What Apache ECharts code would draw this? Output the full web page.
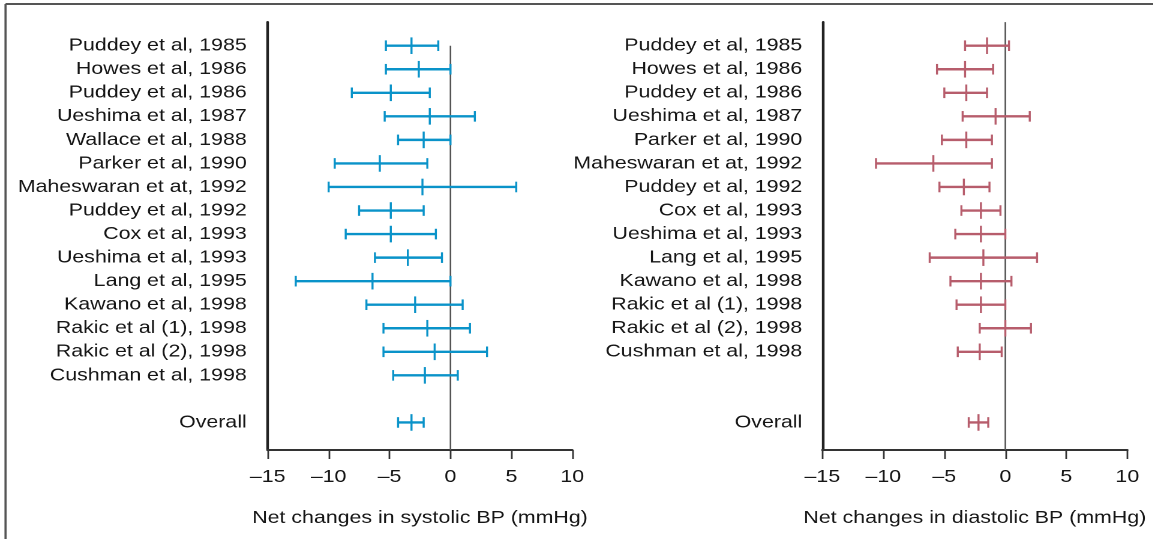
<!DOCTYPE html>
<html>
<head>
<meta charset="utf-8">
<script src="https://cdn.jsdelivr.net/npm/echarts@6/dist/echarts.min.js"></script>
<style>
  html, body { margin: 0; padding: 0; background: #fff; overflow: hidden; }
  /* the figure is set in a slightly wide face: draw narrower, then widen */
  #chart { width: 961px; height: 539px; transform: scaleX(1.2); transform-origin: 0 0; }
</style>
</head>
<body>
<div id="chart"></div>
<script>
// Systolic BP: net change per trial (mean with 95% CI), mmHg
const sbpStudies = [
  'Puddey et al, 1985', 'Howes et al, 1986', 'Puddey et al, 1986', 'Ueshima et al, 1987',
  'Wallace et al, 1988', 'Parker et al, 1990', 'Maheswaran et at, 1992', 'Puddey et al, 1992',
  'Cox et al, 1993', 'Ueshima et al, 1993', 'Lang et al, 1995', 'Kawano et al, 1998',
  'Rakic et al (1), 1998', 'Rakic et al (2), 1998', 'Cushman et al, 1998'
];
const sbpMean = [-3.2, -2.6, -4.9, -1.7, -2.2, -5.8, -2.3, -4.9, -4.9, -3.5, -6.4, -2.9, -1.9, -1.3, -2.1];
const sbpLow  = [-5.3, -5.3, -8.1, -5.4, -4.3, -9.5, -10.0, -7.5, -8.6, -6.2, -12.7, -6.9, -5.5, -5.5, -4.7];
const sbpHigh = [-1.0, 0.0, -1.7, 2.0, 0.0, -1.9, 5.4, -2.2, -1.2, -0.7, 0.0, 1.0, 1.6, 3.0, 0.6];
const sbpOverall = { low: -4.3, mean: -3.2, high: -2.2 };

// Diastolic BP
const dbpStudies = [
  'Puddey et al, 1985', 'Howes et al, 1986', 'Puddey et al, 1986', 'Ueshima et al, 1987',
  'Parker et al, 1990', 'Maheswaran et at, 1992', 'Puddey et al, 1992', 'Cox et al, 1993',
  'Ueshima et al, 1993', 'Lang et al, 1995', 'Kawano et al, 1998', 'Rakic et al (1), 1998',
  'Rakic et al (2), 1998', 'Cushman et al, 1998'
];
const dbpMean = [-1.5, -3.3, -3.2, -0.8, -3.2, -5.9, -3.4, -2.0, -2.0, -1.8, -2.0, -2.0, 0.0, -2.1];
const dbpLow  = [-3.3, -5.6, -5.0, -3.5, -5.2, -10.6, -5.4, -3.6, -4.1, -6.2, -4.5, -4.0, -2.1, -3.9];
const dbpHigh = [0.3, -1.0, -1.5, 2.0, -1.1, -1.1, -1.3, -0.4, 0.0, 2.6, 0.5, 0.0, 2.1, -0.3];
const dbpOverall = { low: -3.0, mean: -2.2, high: -1.4 };

const overallLabel = 'Overall';
const overallRow = 16;
const xTicks = { min: -15, max: 10, step: 5 };
const rowRange = { min: -1, max: 17.17 };
const sbpRefFrom = 0;   // zero line starts at the first trial
const dbpRefFrom = -1;  // zero line runs the full height

const sbpName = 'Net changes in systolic BP (mmHg)';
const dbpName = 'Net changes in diastolic BP (mmHg)';

const FONT = '"Liberation Sans", Arial, Helvetica, sans-serif';
const INK = '#161616';
const BLUE = '#0a93c9';
const RED = '#b75d6c';
const FS = 17.8;

function buildRows(studies, low, mean, high, overall) {
  const rows = studies.map((s, i) => [i, low[i], mean[i], high[i]]);
  rows.push([overallRow, overall.low, overall.mean, overall.high]);
  return rows;
}
function buildLabels(studies) {
  const labels = {};
  studies.forEach((s, i) => { labels[i] = s; });
  labels[overallRow] = overallLabel;
  return labels;
}

const sbpLabels = buildLabels(sbpStudies);
const dbpLabels = buildLabels(dbpStudies);

function errorBar(params, api) {
  const row = api.value(0);
  const lo = api.coord([api.value(1), row]);
  const mid = api.coord([api.value(2), row]);
  const hi = api.coord([api.value(3), row]);
  const color = api.visual('color');
  const capH = 5.3, midH = 8.3;
  const v = (p, h) => ({
    type: 'line',
    shape: { x1: p[0], y1: p[1] - h, x2: p[0], y2: p[1] + h },
    style: { stroke: color, lineWidth: 1.7 }
  });
  return {
    type: 'group',
    children: [
      { type: 'line', shape: { x1: lo[0], y1: lo[1], x2: hi[0], y2: hi[1] }, style: { stroke: color, lineWidth: 2.4 } },
      v(lo, capH), v(hi, capH), v(mid, midH)
    ]
  };
}

function xAxisFor(gridIndex, name) {
  return {
    type: 'value', gridIndex,
    min: xTicks.min, max: xTicks.max, interval: xTicks.step,
    name, nameLocation: 'middle', nameGap: 59,
    nameTextStyle: { color: INK, fontSize: FS, fontFamily: FONT },
    axisLine: { show: true, onZero: false, lineStyle: { color: '#333', width: 2 } },
    axisTick: { show: true, length: 9, lineStyle: { color: '#333', width: 1.4 } },
    axisLabel: {
      margin: 18, color: INK, fontSize: FS, fontFamily: FONT,
      formatter: v => (v < 0 ? '\u2013' + Math.abs(v) : String(v))
    },
    splitLine: { show: false }
  };
}
function yAxisFor(gridIndex, labels, margin) {
  return {
    type: 'value', gridIndex, inverse: true,
    min: rowRange.min, max: rowRange.max, interval: 1,
    axisLine: { show: true, onZero: false, lineStyle: { color: '#222', width: 2.2 } },
    axisTick: { show: false },
    splitLine: { show: false },
    axisLabel: {
      margin, color: INK, fontSize: FS, fontFamily: FONT,
      padding: [3, 0, 0, 0],
      showMinLabel: true, showMaxLabel: true,
      formatter: v => (labels[v] !== undefined ? labels[v] : '')
    }
  };
}
function zeroLine(idx, from) {
  return {
    type: 'line', xAxisIndex: idx, yAxisIndex: idx, silent: true,
    symbol: 'none', z: 1,
    lineStyle: { color: '#555', width: 1.3 },
    data: [[0, from], [0, rowRange.max]]
  };
}

const chart = echarts.init(document.getElementById('chart'), null, { renderer: 'canvas', devicePixelRatio: 2 });
chart.setOption({
  animation: false,
  backgroundColor: '#fff',
  grid: [
    { left: 223.1, top: 22.15, width: 253.8, height: 427.85 },
    { left: 685.25, top: 22.15, width: 254.2, height: 427.85 }
  ],
  xAxis: [xAxisFor(0, sbpName), xAxisFor(1, dbpName)],
  yAxis: [yAxisFor(0, sbpLabels, 17.5), yAxisFor(1, dbpLabels, 16.7)],
  graphic: [
    { type: 'line', shape: { x1: 4.6, y1: 4, x2: 961, y2: 4 }, style: { stroke: '#555', lineWidth: 2 }, silent: true },
    { type: 'line', shape: { x1: 4.6, y1: 4, x2: 4.6, y2: 539 }, style: { stroke: '#555', lineWidth: 1.8 }, silent: true }
  ],
  series: [
    zeroLine(0, sbpRefFrom),
    zeroLine(1, dbpRefFrom),
    {
      type: 'custom', name: 'SBP', xAxisIndex: 0, yAxisIndex: 0, z: 3,
      itemStyle: { color: BLUE },
      encode: { x: [1, 2, 3], y: 0 },
      renderItem: errorBar,
      data: buildRows(sbpStudies, sbpLow, sbpMean, sbpHigh, sbpOverall)
    },
    {
      type: 'custom', name: 'DBP', xAxisIndex: 1, yAxisIndex: 1, z: 3,
      itemStyle: { color: RED },
      encode: { x: [1, 2, 3], y: 0 },
      renderItem: errorBar,
      data: buildRows(dbpStudies, dbpLow, dbpMean, dbpHigh, dbpOverall)
    }
  ]
});
</script>
</body>
</html>
